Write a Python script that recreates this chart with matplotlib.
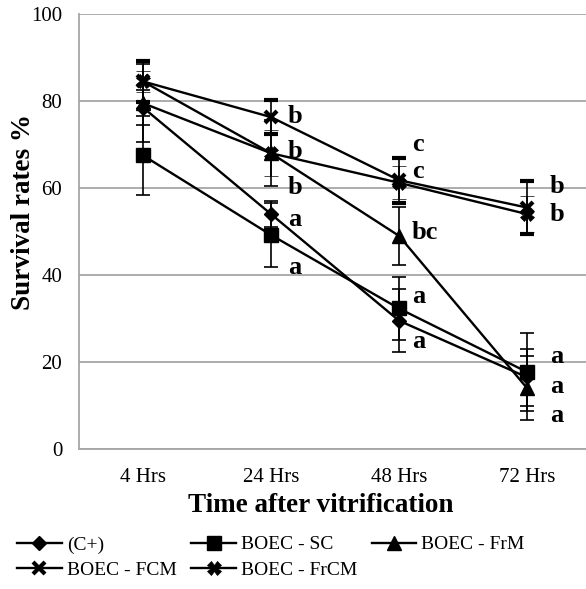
import numpy as np
import matplotlib
matplotlib.use("Agg")
import matplotlib.pyplot as plt

plt.rcParams['font.family'] = ['Liberation Serif', 'DejaVu Serif']

times = ["4 Hrs", "24 Hrs", "48 Hrs", "72 Hrs"]

# mean survival (%) and error per group
c_pos = [78.5, 54.0, 29.5, 16.5]
c_pos_err = [4.0, 3.0, 7.3, 6.5]
sc = [67.5, 49.2, 32.3, 17.7]
sc_err = [9.0, 7.3, 7.3, 9.0]
frm = [79.5, 68.0, 49.0, 14.0]
frm_err = [9.0, 7.6, 6.6, 7.3]
fcm = [84.5, 76.3, 61.8, 55.5]
fcm_err = [4.7, 3.9, 5.2, 6.0]
frcm = [84.5, 68.0, 61.2, 54.0]
frcm_err = [2.5, 5.3, 3.8, 4.2]

# significance letters: (time index, y, text)
letters = [
    (1, 76.5, "b"), (1, 68.5, "b"), (1, 60.0, "b"), (1, 52.7, "a"), (1, 41.7, "a"),
    (2, 70.0, "c"), (2, 63.8, "c"), (2, 49.7, "bc"), (2, 35.0, "a"), (2, 24.6, "a"),
    (3, 60.3, "b"), (3, 53.9, "b"), (3, 21.2, "a"), (3, 14.3, "a"), (3, 7.8, "a"),
]
letter_dx = {1: 0.13, 2: 0.10, 3: 0.18}

fig = plt.figure(figsize=(5.86, 5.89), dpi=100)
ax = fig.add_axes([79/586, 1-449/589, 512/586, 435/589])

x = np.arange(len(times))
series = [
    ("(C+)", c_pos, c_pos_err, dict(marker="D", markersize=7)),
    ("BOEC - SC", sc, sc_err, dict(marker="s", markersize=10)),
    ("BOEC - FrM", frm, frm_err, dict(marker="^", markersize=10)),
    ("BOEC - FCM", fcm, fcm_err, dict(marker="x", markersize=9, markeredgewidth=3)),
    ("BOEC - FrCM", frcm, frcm_err, dict(marker="X", markersize=10, markeredgewidth=0.5)),
]
handles = {}
for name, vals, err, mk in series:
    eb = ax.errorbar(x, vals, yerr=err, color="black", lw=1.7, capsize=4.7,
                     elinewidth=1.2, capthick=1.2, label=name, zorder=3, **mk)
    handles[name] = eb[0]

for i, y, t in letters:
    ax.text(i + letter_dx[i], y, t, ha="left", va="center", fontsize=19,
            fontweight="bold")

ax.set_xlim(-0.5, 3.5)
ax.set_ylim(0, 100)
ax.set_yticks([0, 20, 40, 60, 80, 100])
ax.set_xticks(x)
ax.set_xticklabels(times)
ax.tick_params(length=0, labelsize=15)
ax.tick_params(axis="x", pad=14)
ax.tick_params(axis="y", pad=12)
ax.yaxis.grid(True, color="#a6a6a6", lw=1.3)
ax.set_axisbelow(True)
for s in ["top", "right"]:
    ax.spines[s].set_visible(False)
for s in ["left", "bottom"]:
    ax.spines[s].set_color("#a6a6a6")
    ax.spines[s].set_linewidth(1.3)

ax.set_ylabel("Survival rates %", fontsize=19.5, fontweight="bold", va="center")
ax.yaxis.set_label_coords((24 - 79) / 512, (449 - 212) / 435)
ax.set_xlabel("Time after vitrification", fontsize=19.5, fontweight="bold", va="center")
ax.xaxis.set_label_coords((321 - 79) / 512, (449 - 505) / 435)

order = ["(C+)", "BOEC - FCM", "BOEC - SC", "BOEC - FrCM", "BOEC - FrM"]
fig.legend([handles[n] for n in order], order, ncol=3, loc="lower left",
           bbox_to_anchor=(0.006, -0.006), frameon=False, fontsize=14,
           handlelength=2.3, handletextpad=0.25, columnspacing=0.75,
           labelspacing=0.4, borderaxespad=0.3)

fig.savefig("out.png", dpi=100)
